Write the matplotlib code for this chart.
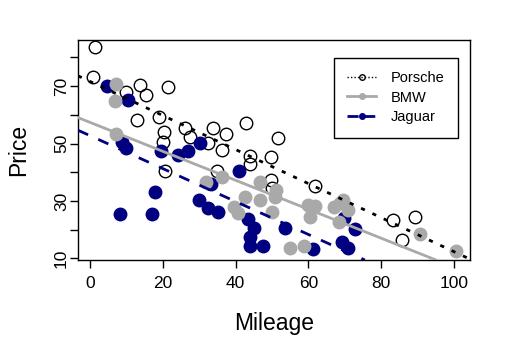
import numpy as np
import matplotlib.pyplot as plt
from matplotlib.lines import Line2D

plt.rcParams['font.family'] = ['Liberation Sans', 'DejaVu Sans']

# données (kilométrage, prix)
porsche_mileage = [1.2, 0.6, 9.7, 13.6, 15.2, 21.3, 12.8, 18.8, 20.2, 19.9, 26.0, 27.4,
                   32.3, 33.7, 37.3, 36.2, 42.8, 43.9, 43.9, 51.6, 49.7, 34.8, 20.5,
                   49.7, 50.0, 61.8, 83.3, 89.3, 85.8]
porsche_price = [83.7, 73.2, 68.0, 70.5, 67.0, 69.8, 58.2, 59.3, 54.1, 50.6, 55.5, 52.3,
                 50.2, 55.5, 53.4, 47.8, 57.2, 45.7, 42.9, 51.9, 45.3, 40.6, 40.3,
                 37.3, 34.5, 35.2, 23.4, 24.4, 16.4]

bmw_mileage = [7.0, 6.7, 7.0, 31.8, 36.2, 42.5, 39.5, 40.6, 46.6, 51.0, 50.8, 46.6, 49.9,
               54.9, 58.8, 59.9, 61.8, 60.4, 67.0, 68.7, 69.5, 70.9, 68.4, 90.7, 100.6]
bmw_price = [70.8, 64.9, 53.4, 36.6, 38.4, 31.4, 27.9, 25.8, 36.6, 33.8, 31.4, 30.3, 26.2,
             13.6, 14.3, 28.6, 28.2, 24.4, 27.9, 29.3, 30.3, 26.8, 22.7, 18.5, 12.5]

jaguar_mileage = [4.5, 10.3, 8.6, 9.7, 19.4, 24.0, 27.0, 30.1, 40.9, 33.2, 17.7, 8.1, 16.9,
                  29.8, 32.3, 35.1, 43.3, 45.0, 43.9, 43.9, 47.5, 53.5, 61.2, 69.2, 70.9,
                  69.8, 72.8]
jaguar_price = [70.1, 65.2, 50.6, 48.5, 47.5, 46.0, 47.5, 50.3, 40.5, 35.9, 33.1, 25.5, 25.5,
                30.3, 27.5, 26.1, 23.7, 20.6, 17.4, 14.3, 14.3, 20.6, 13.2, 15.7, 13.6,
                24.1, 20.2]

navy = '#000080'
grey = '#A9A9A9'

fig = plt.figure(figsize=(5.11, 3.58), dpi=100)
ax = fig.add_axes([0.1526, 0.2737, 0.7672, 0.6146])

# points
ax.plot(porsche_mileage, porsche_price, 'o', mfc='none', mec='black', ms=9, mew=1, zorder=3)
ax.plot(jaguar_mileage, jaguar_price, 'o', color=navy, ms=9, zorder=3)
ax.plot(bmw_mileage, bmw_price, 'o', color=grey, ms=9, zorder=3)

# droites de régression
for xs, ys, col, ls in [(porsche_mileage, porsche_price, 'black', (0, (1.5, 3))),
                        (bmw_mileage, bmw_price, grey, '-'),
                        (jaguar_mileage, jaguar_price, navy, (0, (4, 4)))]:
    m, b = np.polyfit(xs, ys, 1)
    ax.axline((0, b), slope=m, color=col, lw=2, ls=ls, zorder=4)

ax.set_xlim(-3.4, 104.5)
ax.set_ylim(9.4, 86.1)
ax.set_xticks([0, 20, 40, 60, 80, 100])
ax.set_yticks([10, 20, 30, 40, 50, 60, 70, 80])
ax.set_yticklabels(['10', '', '30', '', '50', '', '70', ''], rotation=90, va='center')
ax.tick_params(direction='out', length=5.5, width=1, labelsize=12.5)
ax.tick_params(axis='x', pad=6)
ax.tick_params(axis='y', pad=1)
for s in ax.spines.values():
    s.set_linewidth(1)

ax.set_xlabel('Mileage', fontsize=16.5, labelpad=15)
ax.set_ylabel('Price', fontsize=16.5, labelpad=17)

handles = [Line2D([], [], color='black', ls=(0, (1, 1.5)), lw=1, marker='o', mfc='none', mec='black', ms=4),
           Line2D([], [], color=grey, ls='-', lw=2, marker='o', ms=4),
           Line2D([], [], color=navy, ls=(0, (4, 2)), lw=2, marker='o', ms=4)]
leg = ax.legend(handles, ['Porsche', 'BMW', 'Jaguar'], loc='upper right',
                bbox_to_anchor=(0.969, 0.92), fontsize=10.5, fancybox=False,
                edgecolor='black', framealpha=1, handlelength=2.0, borderpad=0.9,
                labelspacing=0.4, handletextpad=1.0, borderaxespad=0)
leg.get_frame().set_linewidth(1)

fig.savefig('out.png', dpi=100)
